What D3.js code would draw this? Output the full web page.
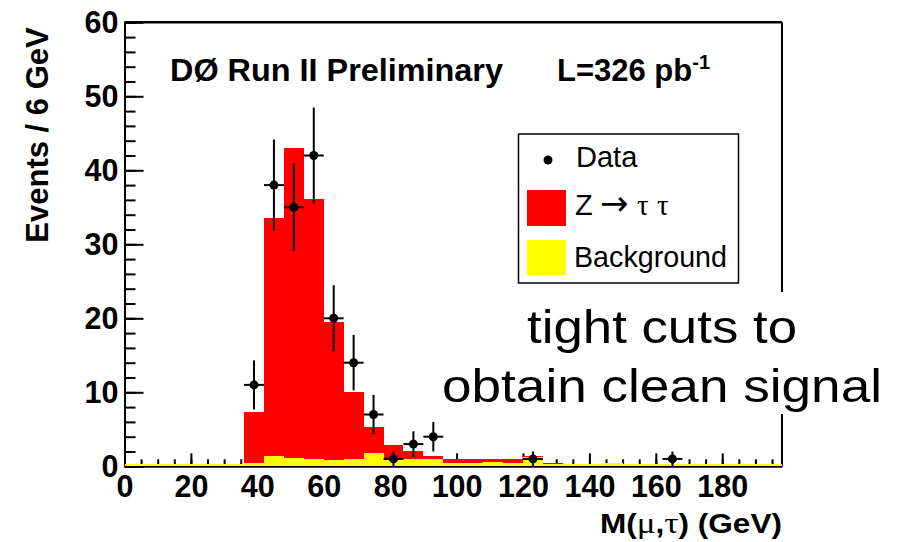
<!DOCTYPE html>
<html>
<head>
<meta charset="utf-8">
<script src="https://cdn.jsdelivr.net/npm/d3@7"></script>
<style>
  body { margin: 0; background: #fff; }
  svg { display: block; font-family: "Liberation Sans", Arial, Helvetica, sans-serif; }
  .axis path, .axis line { stroke: #000; stroke-width: 2; }
  .axis text { font-size: 30.5px; font-weight: bold; fill: #000; }
</style>
</head>
<body>
<div id="chart"></div>
<script>
// 6 GeV bins, low edges plus the last upper edge
const binEdges = [0, 6, 12, 18, 24, 30, 36, 42, 48, 54, 60, 66, 72, 78, 84, 90, 96, 102,
  108, 114, 120, 126, 132, 138, 144, 150, 156, 162, 168, 174, 180, 186, 192, 198];

// stacked expectation (Z->tautau + background), drawn in red
const totalExpected = [0.25, 0.25, 0.25, 0.25, 0.25, 0.25, 7.4, 33.6, 43.0, 36.1, 19.5, 10.1,
  5.35, 2.9, 2.1, 1.35, 0.95, 0.95, 0.95, 1.05, 1.35, 0.5, 0.3, 0.3, 0.45, 0.25, 0.35,
  0.25, 0.25, 0.25, 0.25, 0.25, 0.25];

// background only, drawn in yellow on top
const background = [0.25, 0.25, 0.25, 0.25, 0.25, 0.25, 0.4, 1.4, 1.15, 1.0, 0.85, 0.95,
  1.75, 0.85, 1.0, 1.0, 0.5, 0.5, 0.6, 0.4, 1.3, 0.25, 0.25, 0.25, 0.4, 0.25, 0.25,
  0.25, 0.25, 0.25, 0.25, 0.25, 0.25];

// observed events at bin centres
const dataMass = [39, 45, 51, 57, 63, 69, 75, 81, 87, 93, 123, 165];
const dataCounts = [11, 38, 35, 42, 20, 14, 7, 1, 3, 4, 1, 1];
const dataErrors = [3.32, 6.16, 5.92, 6.48, 4.47, 3.74, 2.65, 1, 1.73, 2, 1, 1];

const xMajorTicks = [0, 20, 40, 60, 80, 100, 120, 140, 160, 180];
const yMajorTicks = [0, 10, 20, 30, 40, 50, 60];

const width = 901, height = 542;
const frame = { left: 124.5, right: 782, top: 22.3, bottom: 466.3 };
const serif = "'Liberation Serif', 'DejaVu Serif', serif";

const svg = d3.select("#chart").append("svg")
    .attr("width", width)
    .attr("height", height);

const x = d3.scaleLinear().domain([0, 198]).range([frame.left, frame.right]);
const y = d3.scaleLinear().domain([0, 60]).range([frame.bottom, frame.top]);

// frame: top and right edges
svg.append("line").attr("x1", frame.left).attr("x2", frame.right).attr("y1", frame.top).attr("y2", frame.top)
    .attr("stroke", "#000").attr("stroke-width", 2.5);
svg.append("line").attr("x1", frame.right).attr("x2", frame.right).attr("y1", frame.top).attr("y2", frame.bottom)
    .attr("stroke", "#000").attr("stroke-width", 2);

// x axis, major + minor ticks pointing inward
svg.append("g").attr("class", "axis")
    .attr("transform", `translate(0,${frame.bottom})`)
    .call(d3.axisBottom(x).tickValues(xMajorTicks).tickSize(-13).tickSizeOuter(0)
        .tickPadding(9).tickFormat(d3.format("d")));
svg.append("g").attr("class", "axis")
    .attr("transform", `translate(0,${frame.bottom})`)
    .call(d3.axisBottom(x).tickValues(d3.range(0, 198, 5)).tickSize(-7).tickSizeOuter(0).tickFormat(""))
    .select(".domain").remove();

// y axis
svg.append("g").attr("class", "axis")
    .attr("transform", `translate(${frame.left},0)`)
    .call(d3.axisLeft(y).tickValues(yMajorTicks).tickSize(-19).tickSizeOuter(0).tickPadding(6));
svg.append("g").attr("class", "axis")
    .attr("transform", `translate(${frame.left},0)`)
    .call(d3.axisLeft(y).tickValues(d3.range(0, 61, 2)).tickSize(-11).tickSizeOuter(0).tickFormat(""))
    .select(".domain").remove();

// histograms
function drawHist(values, color) {
    svg.append("g").selectAll("rect")
        .data(values)
        .enter().append("rect")
        .attr("x", (d, i) => x(binEdges[i]))
        .attr("width", (d, i) => x(binEdges[i + 1]) - x(binEdges[i]))
        .attr("y", d => y(d))
        .attr("height", d => y(0) - y(d))
        .attr("fill", color)
        .attr("shape-rendering", "crispEdges");
}
drawHist(totalExpected, "#ff0000");
drawHist(background, "#ffff00");

// data points with errors
const pts = svg.append("g");
dataMass.forEach((m, i) => {
    const c = dataCounts[i], e = dataErrors[i];
    pts.append("line").attr("x1", x(m)).attr("x2", x(m))
        .attr("y1", y(c + e)).attr("y2", y(Math.max(c - e, 0)))
        .attr("stroke", "#000").attr("stroke-width", 2);
    pts.append("line").attr("x1", x(m - 3)).attr("x2", x(m + 3))
        .attr("y1", y(c)).attr("y2", y(c))
        .attr("stroke", "#000").attr("stroke-width", 2);
    pts.append("circle").attr("cx", x(m)).attr("cy", y(c)).attr("r", 4.5).attr("fill", "#000");
});

// axis titles
svg.append("text")
    .attr("transform", "translate(48,135) rotate(-90)")
    .attr("text-anchor", "middle")
    .style("font-size", "31px").style("font-weight", "bold")
    .text("Events / 6 GeV");

const xt = svg.append("text")
    .attr("x", 600).attr("y", 533)
    .attr("textLength", 182).attr("lengthAdjust", "spacingAndGlyphs")
    .style("font-size", "27px").style("font-weight", "bold");
xt.append("tspan").text("M(");
xt.append("tspan").style("font-family", serif).style("font-weight", "normal").style("font-size", "30px").text("μ");
xt.append("tspan").text(",");
xt.append("tspan").style("font-family", serif).style("font-weight", "normal").style("font-size", "30px").text("τ");
xt.append("tspan").text(") (GeV)");

// experiment label
svg.append("text").attr("x", 170).attr("y", 81)
    .attr("textLength", 333).attr("lengthAdjust", "spacingAndGlyphs")
    .style("font-size", "31px").style("font-weight", "bold")
    .text("DØ Run II Preliminary");
const lumi = svg.append("text").attr("x", 557).attr("y", 81)
    .style("font-size", "31px").style("font-weight", "bold");
lumi.append("tspan").text("L=326 pb");
lumi.append("tspan").attr("dy", -12).style("font-size", "20px").text("-1");

// legend
const legend = svg.append("g");
legend.append("rect").attr("x", 518.5).attr("y", 134).attr("width", 220).attr("height", 149)
    .attr("fill", "#fff").attr("stroke", "#000").attr("stroke-width", 1.5);
legend.append("circle").attr("cx", 548).attr("cy", 160).attr("r", 4.5).attr("fill", "#000");
legend.append("rect").attr("x", 527).attr("y", 190).attr("width", 39).attr("height", 36).attr("fill", "#ff0000");
legend.append("rect").attr("x", 527).attr("y", 240).attr("width", 39).attr("height", 35).attr("fill", "#ffff00");
legend.append("text").attr("x", 576).attr("y", 167).style("font-size", "29px").text("Data");
const zt = legend.append("text").attr("y", 215).style("font-size", "29px");
zt.append("tspan").attr("x", 575).text("Z");
zt.append("tspan").attr("x", 600).style("font-family", "'DejaVu Sans', sans-serif").style("font-size", "34px").text("→");
zt.append("tspan").attr("x", 637).style("font-family", serif).text("τ");
zt.append("tspan").attr("x", 657).style("font-family", serif).text("τ");
legend.append("text").attr("x", 574).attr("y", 267)
    .attr("textLength", 153).attr("lengthAdjust", "spacingAndGlyphs")
    .style("font-size", "29px").text("Background");

// annotation on a white box
svg.append("rect").attr("x", 436).attr("y", 292).attr("width", 456).attr("height", 122).attr("fill", "#fff");
const note = svg.append("g").style("font-size", "46px");
note.append("text").attr("x", 527).attr("y", 343)
    .attr("textLength", 270).attr("lengthAdjust", "spacingAndGlyphs")
    .text("tight cuts to");
note.append("text").attr("x", 442).attr("y", 402)
    .attr("textLength", 440).attr("lengthAdjust", "spacingAndGlyphs")
    .text("obtain clean signal");
</script>
</body>
</html>
